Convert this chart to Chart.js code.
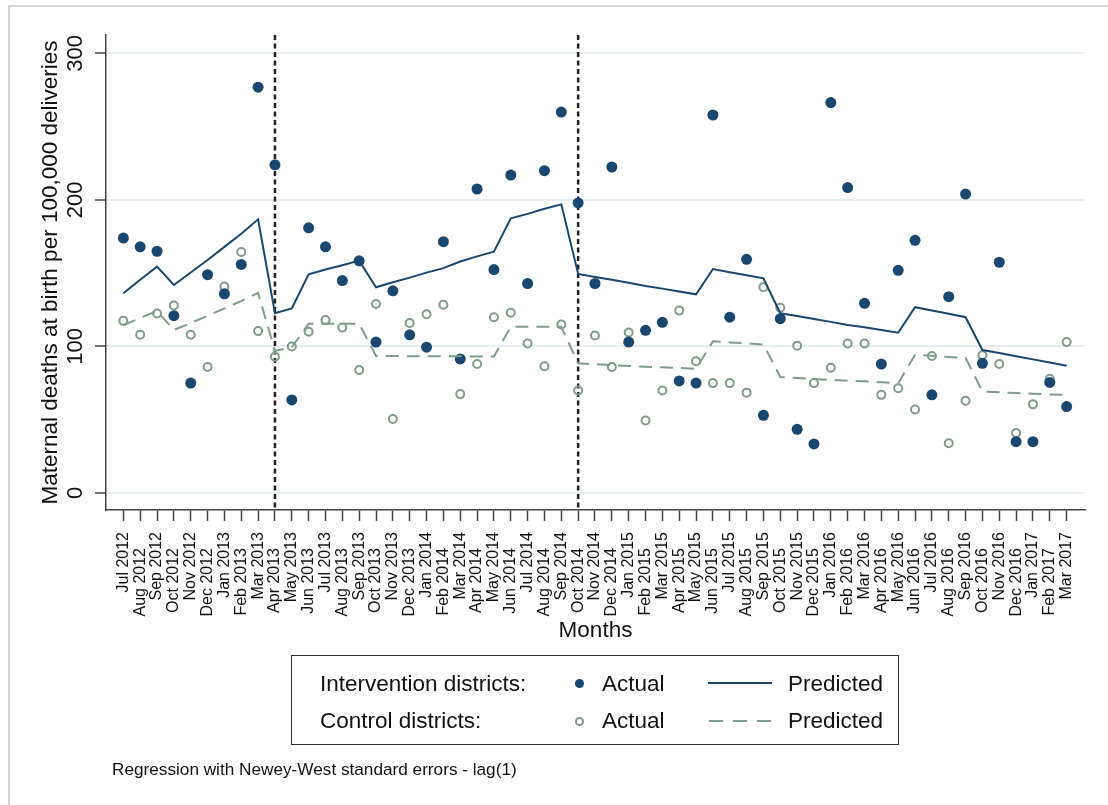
<!DOCTYPE html>
<html>
<head>
<meta charset="utf-8">
<script src="https://cdn.jsdelivr.net/npm/chart.js@4.4.1/dist/chart.umd.min.js"></script>
<style>
  html, body { margin: 0; padding: 0; background: #fff; }
  #wrap { position: relative; width: 1108px; height: 805px; overflow: hidden;
          font-family: "Liberation Sans", Arial, Helvetica, sans-serif; color: #111; }
  #frame { position: absolute; left: 8px; top: 5px; right: -4px; bottom: -4px;
           border-left: 2px solid #d4d4d4; border-top: 2px solid #d4d4d4; }
  canvas { position: absolute; left: 0; top: 0; }
  #legend { position: absolute; left: 291px; top: 655px; width: 606px; height: 88px;
            border: 1.5px solid #333; }
  .txt { position: absolute; font-size: 22.5px; line-height: 26px; white-space: nowrap; }
  .dot { position: absolute; width: 9px; height: 9px; border-radius: 50%; background: #1a476f; }
  .ring { position: absolute; width: 5px; height: 5px; border-radius: 50%; border: 2px solid #7f9d8a; }
  #note { position: absolute; left: 112px; top: 759px; font-size: 17.2px; white-space: nowrap; }
</style>
</head>
<body>
<div id="wrap">
  <div id="frame"></div>
  <canvas id="chart" width="1108" height="805"></canvas>
  <div id="legend"></div>
  <div class="txt" style="left:320px; top:671px;">Intervention districts:</div>
  <div class="dot" style="left:575px; top:679px;"></div>
  <div class="txt" style="left:602px; top:671px;">Actual</div>
  <svg style="position:absolute; left:706px; top:676px;" width="70" height="14">
    <line x1="2" y1="7" x2="66" y2="7" stroke="#1a476f" stroke-width="2"/>
  </svg>
  <div class="txt" style="left:788px; top:671px;">Predicted</div>
  <div class="txt" style="left:320px; top:708px;">Control districts:</div>
  <div class="ring" style="left:575px; top:717px;"></div>
  <div class="txt" style="left:602px; top:708px;">Actual</div>
  <svg style="position:absolute; left:706px; top:714px;" width="70" height="14">
    <line x1="3" y1="7" x2="65" y2="7" stroke="#7f9d8a" stroke-width="2" stroke-dasharray="14 10"/>
  </svg>
  <div class="txt" style="left:788px; top:708px;">Predicted</div>
  <div id="note">Regression with Newey-West standard errors - lag(1)</div>
</div>
<script>
const months = [
  'Jul 2012', 'Aug 2012', 'Sep 2012', 'Oct 2012', 'Nov 2012', 'Dec 2012',
  'Jan 2013', 'Feb 2013', 'Mar 2013', 'Apr 2013', 'May 2013', 'Jun 2013',
  'Jul 2013', 'Aug 2013', 'Sep 2013', 'Oct 2013', 'Nov 2013', 'Dec 2013',
  'Jan 2014', 'Feb 2014', 'Mar 2014', 'Apr 2014', 'May 2014', 'Jun 2014',
  'Jul 2014', 'Aug 2014', 'Sep 2014', 'Oct 2014', 'Nov 2014', 'Dec 2014',
  'Jan 2015', 'Feb 2015', 'Mar 2015', 'Apr 2015', 'May 2015', 'Jun 2015',
  'Jul 2015', 'Aug 2015', 'Sep 2015', 'Oct 2015', 'Nov 2015', 'Dec 2015',
  'Jan 2016', 'Feb 2016', 'Mar 2016', 'Apr 2016', 'May 2016', 'Jun 2016',
  'Jul 2016', 'Aug 2016', 'Sep 2016', 'Oct 2016', 'Nov 2016', 'Dec 2016',
  'Jan 2017', 'Feb 2017', 'Mar 2017'
];

const interventionActual = [
  174, 168, 165, 121, 75, 149, 136, 156, 277,
  224, 63.5, 181, 168, 145, 158.5, 103, 138, 108, 99.5, 171.5, 91.5, 207.5, 152.5, 217, 143, 220, 260,
  198, 143, 222.5, 103, 111, 116.5, 76.5, 75, 258, 120, 159.5, 53, 119, 43.5, 33.5,
  266.5, 208.5, 129.5, 88, 152, 172.5, 67, 134, 204, 88.5, 157.5, 35, 35, 75.5, 59
];

const controlActual = [
  117.5, 108, 122.5, 128, 108, 86, 141, 164.5, 110.5,
  93, 100, 110, 118, 113, 84, 129, 50.5, 116, 122, 128.5, 67.5, 88, 120, 123, 102, 86.5, 115,
  70, 107.5, 86, 109.5, 49.5, 70, 124.5, 90, 75, 75, 68.5, 140.5, 126.5, 100.5, 75,
  85.5, 102, 102, 67, 71.5, 57, 93.5, 34, 63, 94, 88, 41, 60.5, 78, 103
];

const interventionPredicted = [
  136.3, 145.5, 154.5, 142, 150.5, 159, 168, 177, 186.8,
  122.7, 126, 149.3, 152.5, 155.5, 158.6, 140.4, 143.8, 147, 150.4, 153.5, 158, 161.5, 164.7, 187.5, 190.5, 194, 197,
  149.5, 147.5, 145.5, 143.5, 141.3, 139.5, 137.5, 135.6, 152.9, 150.7, 148.6, 146.5, 122.7, 120.8, 118.8,
  116.8, 114.7, 113.1, 111.3, 109.4, 126.8, 124.5, 122.3, 120, 97.6, 95.5, 93.3, 91.2, 89, 86.9
];

const controlPredicted = [
  114.5, 119.5, 124.2, 111.3, 116, 121, 126, 131, 136.5,
  97, 99.5, 115.5, 115.6, 115.6, 115.6, 93.5, 93.5, 93.4, 93.4, 93.3, 93.3, 93.2, 93.2, 113.5, 113.5, 113.4, 113.4,
  88.5, 87.9, 87.3, 86.7, 86.2, 85.8, 85.3, 84.8, 103.5, 102.8, 102.1, 101.4, 79.2, 78.5, 77.8,
  77.2, 76.6, 76.2, 75.6, 74.9, 94.3, 93.6, 92.9, 92.2, 69.3, 68.7, 68.2, 67.7, 67.3, 66.9
];

const yTicks = [0, 100, 200, 300];
const interventionStarts = ['Apr 2013', 'Oct 2014'];

const navy = '#1a476f';
const sage = '#7f9d8a';
const family = '"Liberation Sans", Arial, Helvetica, sans-serif';

const toPoints = arr => arr.map((v, i) => ({ x: i, y: v }));

// dashed vertical lines where the intervention phases start
const phaseLines = {
  id: 'phaseLines',
  beforeDatasetsDraw(chart) {
    const { ctx, chartArea, scales } = chart;
    ctx.save();
    ctx.strokeStyle = '#222';
    ctx.lineWidth = 2.5;
    ctx.setLineDash([5, 3.5]);
    interventionStarts.forEach(m => {
      const x = scales.x.getPixelForValue(months.indexOf(m));
      ctx.beginPath();
      ctx.moveTo(x, chartArea.top);
      ctx.lineTo(x, chartArea.bottom);
      ctx.stroke();
    });
    ctx.restore();
  }
};

// y labels are vertical in the original, drawn next to the ticks
const yLabels = {
  id: 'yLabels',
  afterDraw(chart) {
    const { ctx, chartArea, scales } = chart;
    ctx.save();
    ctx.fillStyle = '#111';
    ctx.font = '22px ' + family;
    ctx.textAlign = 'center';
    ctx.textBaseline = 'middle';
    yTicks.forEach(v => {
      const y = scales.y.getPixelForValue(v);
      ctx.save();
      ctx.translate(chartArea.left - 30, y);
      ctx.rotate(-Math.PI / 2);
      ctx.fillText(String(v), 0, 0);
      ctx.restore();
    });
    ctx.restore();
  }
};

new Chart(document.getElementById('chart'), {
  type: 'line',
  data: {
    datasets: [
      {
        label: 'Control districts: Predicted',
        data: toPoints(controlPredicted),
        borderColor: sage,
        borderWidth: 2,
        borderDash: [13, 8],
        pointRadius: 0,
        tension: 0
      },
      {
        label: 'Intervention districts: Predicted',
        data: toPoints(interventionPredicted),
        borderColor: navy,
        borderWidth: 2,
        pointRadius: 0,
        tension: 0
      },
      {
        label: 'Intervention districts: Actual',
        data: toPoints(interventionActual),
        showLine: false,
        pointRadius: 5.5,
        pointBackgroundColor: navy,
        pointBorderColor: navy,
        pointBorderWidth: 0
      },
      {
        label: 'Control districts: Actual',
        data: toPoints(controlActual),
        showLine: false,
        pointRadius: 4,
        pointBackgroundColor: 'rgba(0,0,0,0)',
        pointBorderColor: sage,
        pointBorderWidth: 2
      }
    ]
  },
  options: {
    responsive: false,
    animation: false,
    layout: { padding: { left: 37, right: 23, top: 35, bottom: 160 } },
    plugins: { legend: { display: false }, tooltip: { enabled: false } },
    scales: {
      x: {
        type: 'linear',
        min: -1.03,
        max: 57.09,
        afterBuildTicks: s => { s.ticks = months.map((m, i) => ({ value: i })); },
        afterFit: s => { s.height = 135; },
        ticks: {
          autoSkip: false,
          minRotation: 90,
          maxRotation: 90,
          padding: 11,
          color: '#111',
          font: { size: 16, family },
          // every second label sits lower, as in the original
          callback: v => months[v] + (v % 2 ? '\u2002\u2002' : '')
        },
        grid: { drawOnChartArea: false, tickLength: 11, tickColor: '#444', tickWidth: 1.5 },
        border: { color: '#444', width: 1.5 },
        title: {
          display: true, text: 'Months', color: '#111',
          font: { size: 22.5, family }, padding: { top: 0, bottom: 1 }
        }
      },
      y: {
        min: -11.6,
        max: 312.6,
        afterBuildTicks: s => { s.ticks = yTicks.map(v => ({ value: v })); },
        afterFit: s => { s.width = 69; },
        ticks: { display: false },
        grid: { color: '#e6eef2', lineWidth: 2, tickLength: 11, tickColor: '#444', tickWidth: 1.5 },
        border: { color: '#444', width: 1.5 },
        title: {
          display: true, text: 'Maternal deaths at birth per 100,000 deliveries', color: '#111',
          font: { size: 22.5, family }, padding: 0
        }
      }
    }
  },
  plugins: [phaseLines, yLabels]
});
</script>
</body>
</html>
